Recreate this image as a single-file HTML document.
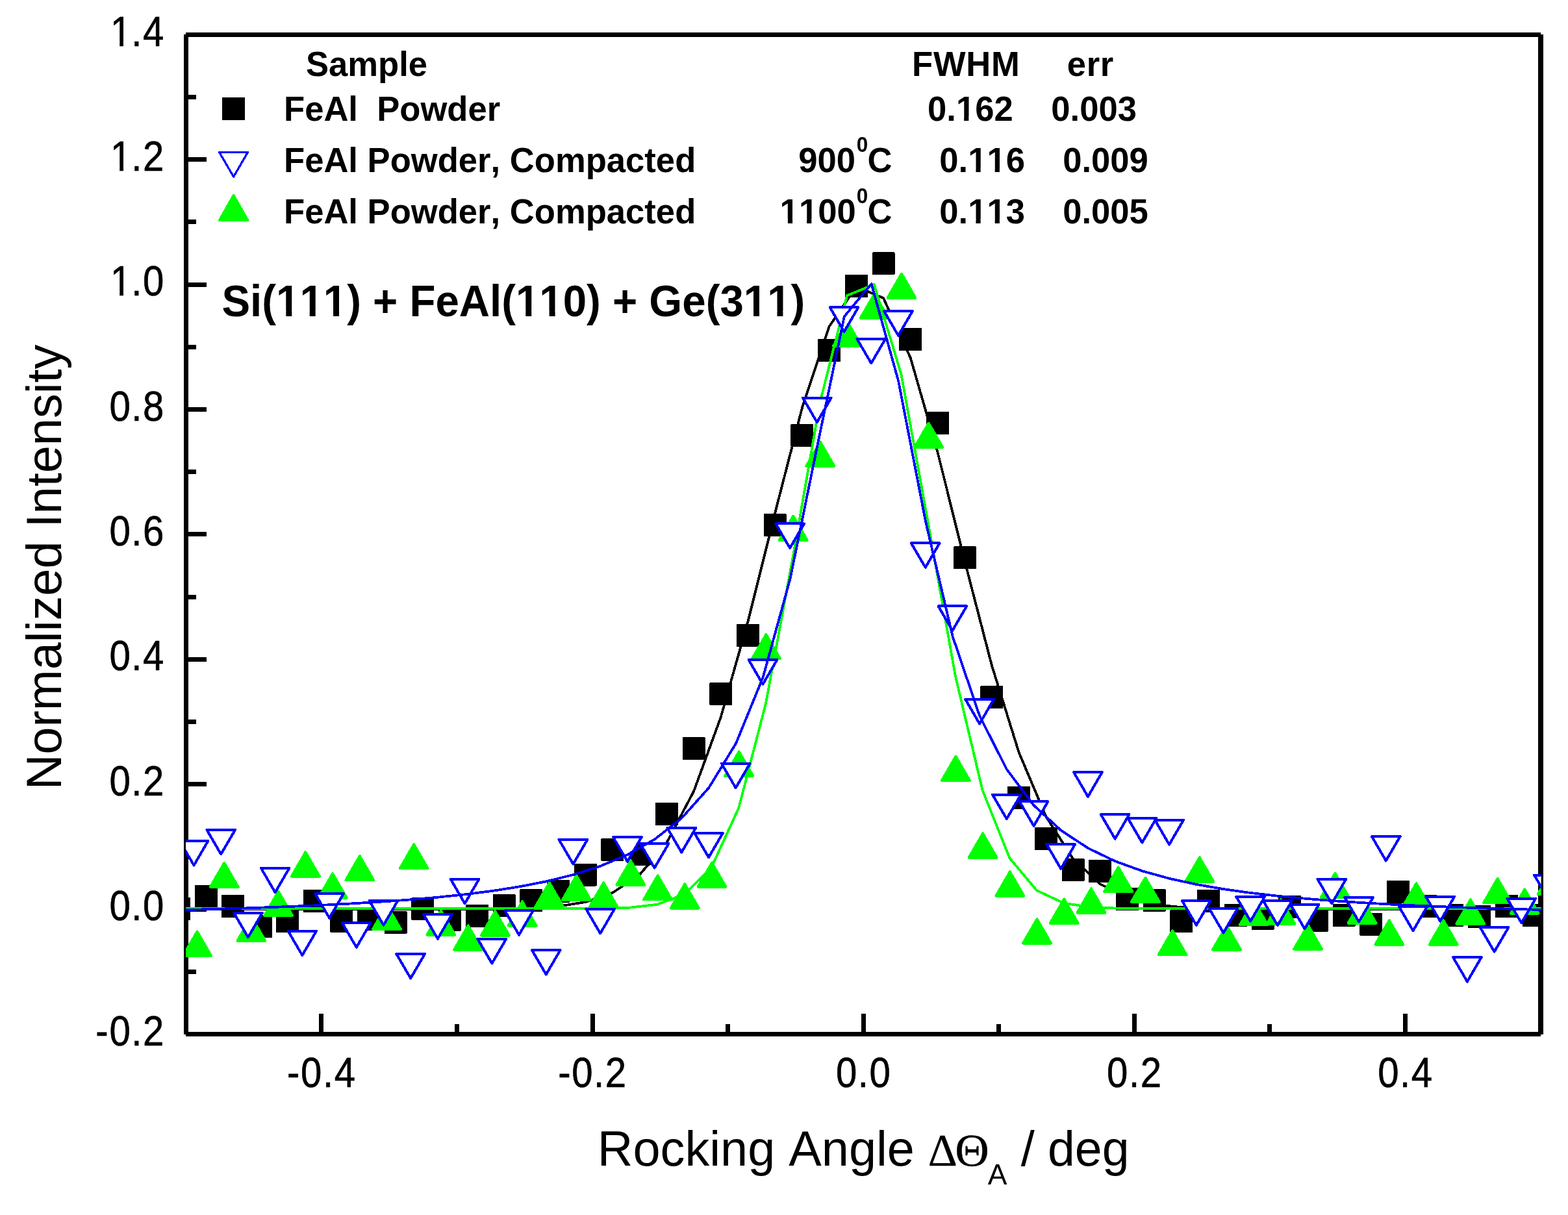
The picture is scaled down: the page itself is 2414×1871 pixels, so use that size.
<!DOCTYPE html>
<html lang="en"><head><meta charset="utf-8"><title>Rocking curves: Si(111) + FeAl(110) + Ge(311)</title>
<style>
html,body{margin:0;padding:0;background:#fff;}
body{width:2414px;height:1871px;overflow:hidden;}
svg{display:block;}
text{font-family:"Liberation Sans",Arial,Helvetica,sans-serif;fill:#000;font-kerning:none;}
.b{font-weight:bold;}
.sym{font-family:"Liberation Serif","DejaVu Serif",serif;}
.m{fill:#fff;}
.ax{fill:#000;shape-rendering:crispEdges;}
.sq{fill:#000;shape-rendering:crispEdges;}
.gt{fill:#0f0;stroke:#0f0;stroke-width:4;stroke-linejoin:round;shape-rendering:crispEdges;}
.bt{fill:#fff;stroke:#00f;stroke-width:4;stroke-linejoin:round;shape-rendering:crispEdges;}
.ln{fill:none;stroke-width:3.8;stroke-linejoin:round;stroke-linecap:butt;shape-rendering:crispEdges;}
</style></head><body>
<svg width="2414" height="1871" viewBox="0 0 2414 1871" role="img" aria-label="Rocking curves of FeAl powder samples">
<rect width="2414" height="1871" fill="#fff"/>
<defs><clipPath id="pc"><rect x="286" y="53" width="2086.6" height="1540"/></clipPath></defs>
<g class="ax">
<rect x="283" y="53" width="7" height="1540"/>
<rect x="2368" y="53" width="8" height="1540"/>
<rect x="286" y="50" width="2086" height="7"/>
<rect x="286" y="1589" width="2086" height="7"/>
<rect x="290" y="146" width="12" height="7"/>
<rect x="290" y="242" width="28" height="7"/>
<rect x="290" y="338" width="12" height="7"/>
<rect x="290" y="435" width="28" height="7"/>
<rect x="290" y="531" width="12" height="7"/>
<rect x="290" y="627" width="28" height="7"/>
<rect x="290" y="723" width="12" height="7"/>
<rect x="290" y="819" width="28" height="7"/>
<rect x="290" y="916" width="12" height="7"/>
<rect x="290" y="1012" width="28" height="7"/>
<rect x="290" y="1108" width="12" height="7"/>
<rect x="290" y="1204" width="28" height="7"/>
<rect x="290" y="1300" width="12" height="7"/>
<rect x="290" y="1397" width="28" height="7"/>
<rect x="290" y="1493" width="12" height="7"/>
<rect x="491" y="1561" width="7" height="28"/>
<rect x="700" y="1577" width="7" height="12"/>
<rect x="909" y="1561" width="7" height="28"/>
<rect x="1117" y="1577" width="7" height="12"/>
<rect x="1326" y="1561" width="7" height="28"/>
<rect x="1534" y="1577" width="7" height="12"/>
<rect x="1743" y="1561" width="7" height="28"/>
<rect x="1951" y="1577" width="7" height="12"/>
<rect x="2160" y="1561" width="7" height="28"/>
</g>
<text font-size="64.2" transform="translate(0,70.5) scale(0.9050,1)" x="187.74 223.54 243.13" y="0" stroke="#000" stroke-width="0.7" xml:space="preserve">1.4</text>
<rect class="m" x="172.82" y="64.15" width="11.38" height="8.1"/>
<rect class="m" x="189.97" y="64.15" width="10.93" height="8.1"/>
<text font-size="64.2" transform="translate(0,262.88) scale(0.9050,1)" x="187.74 223.54 243.13" y="0" stroke="#000" stroke-width="0.7" xml:space="preserve">1.2</text>
<rect class="m" x="172.82" y="256.53" width="11.38" height="8.1"/>
<rect class="m" x="189.97" y="256.53" width="10.93" height="8.1"/>
<text font-size="64.2" transform="translate(0,455.25) scale(0.9050,1)" x="187.74 223.54 243.13" y="0" stroke="#000" stroke-width="0.7" xml:space="preserve">1.0</text>
<rect class="m" x="172.82" y="448.9" width="11.38" height="8.1"/>
<rect class="m" x="189.97" y="448.9" width="10.93" height="8.1"/>
<text font-size="64.2" transform="translate(0,647.63) scale(0.9050,1)" x="186.09 223.54 243.13" y="0" stroke="#000" stroke-width="0.7" xml:space="preserve">0.8</text>
<text font-size="64.2" transform="translate(0,840) scale(0.9050,1)" x="186.09 223.54 243.13" y="0" stroke="#000" stroke-width="0.7" xml:space="preserve">0.6</text>
<text font-size="64.2" transform="translate(0,1032.38) scale(0.9050,1)" x="186.09 223.54 243.13" y="0" stroke="#000" stroke-width="0.7" xml:space="preserve">0.4</text>
<text font-size="64.2" transform="translate(0,1224.75) scale(0.9050,1)" x="186.09 223.54 243.13" y="0" stroke="#000" stroke-width="0.7" xml:space="preserve">0.2</text>
<text font-size="64.2" transform="translate(0,1417.13) scale(0.9050,1)" x="186.09 223.54 243.13" y="0" stroke="#000" stroke-width="0.7" xml:space="preserve">0.0</text>
<text font-size="64.2" transform="translate(0,1609.5) scale(0.9050,1)" x="162.84 186.09 223.54 243.13" y="0" stroke="#000" stroke-width="0.7" xml:space="preserve">-0.2</text>
<text font-size="64.2" transform="translate(0,1673.6) scale(0.9050,1)" x="488.45 511.7 549.16 568.74" y="0" stroke="#000" stroke-width="0.7" xml:space="preserve">-0.4</text>
<text font-size="64.2" transform="translate(0,1673.6) scale(0.9050,1)" x="949.34 972.58 1010.04 1029.63" y="0" stroke="#000" stroke-width="0.7" xml:space="preserve">-0.2</text>
<text font-size="64.2" transform="translate(0,1673.6) scale(0.9050,1)" x="1422.08 1459.53 1479.12" y="0" stroke="#000" stroke-width="0.7" xml:space="preserve">0.0</text>
<text font-size="64.2" transform="translate(0,1673.6) scale(0.9050,1)" x="1882.96 1920.42 1940.01" y="0" stroke="#000" stroke-width="0.7" xml:space="preserve">0.2</text>
<text font-size="64.2" transform="translate(0,1673.6) scale(0.9050,1)" x="2343.85 2381.3 2400.89" y="0" stroke="#000" stroke-width="0.7" xml:space="preserve">0.4</text>
<text transform="translate(94.1,1216.3) rotate(-90) scale(0.9852,1)" font-size="76.84">Normalized Intensity</text>
<text font-size="76.84" transform="translate(0,1794.9) scale(0.9852,1)" x="933.6 989.09 1031.82 1070.24 1108.65 1125.72 1168.46 1211.19 1232.54 1283.78 1326.52 1369.25 1386.32" y="0" xml:space="preserve">Rocking Angle</text>
<text class="sym" font-size="70" x="1428.63" y="1794.9" stroke="#000" stroke-width="0.35" xml:space="preserve">Δ</text>
<text class="sym" font-size="70" transform="translate(0,1794.9) scale(1.0400,1)" x="1413.67" y="0" stroke="#000" stroke-width="0.35" xml:space="preserve">Θ</text>
<text font-size="44.5" x="1520.81" y="1824.4" xml:space="preserve">A</text>
<text font-size="76.84" transform="translate(0,1794.9) scale(0.9852,1)" x="1595.38" y="0" xml:space="preserve">/</text>
<text font-size="76.45" transform="translate(0,1794.9) scale(0.9852,1)" x="1637.22 1679.74 1722.25" y="0" xml:space="preserve">deg</text>
<g clip-path="url(#pc)">
<g class="sq">
<rect x="258.1" y="1382" width="35" height="35" rx="1.3"/>
<rect x="299.81" y="1362.9" width="35" height="35" rx="1.3"/>
<rect x="340.72" y="1377.8" width="35" height="35" rx="1.3"/>
<rect x="384.23" y="1408.8" width="35" height="35" rx="1.3"/>
<rect x="424.94" y="1400.9" width="35" height="35" rx="1.3"/>
<rect x="466.65" y="1370.1" width="35" height="35" rx="1.3"/>
<rect x="508.36" y="1400.8" width="35" height="35" rx="1.3"/>
<rect x="550.07" y="1398" width="35" height="35" rx="1.3"/>
<rect x="591.78" y="1403" width="35" height="35" rx="1.3"/>
<rect x="633.49" y="1382" width="35" height="35" rx="1.3"/>
<rect x="675.2" y="1398.7" width="35" height="35" rx="1.3"/>
<rect x="716.91" y="1393.2" width="35" height="35" rx="1.3"/>
<rect x="758.62" y="1377" width="35" height="35" rx="1.3"/>
<rect x="800.33" y="1369" width="35" height="35" rx="1.3"/>
<rect x="842.04" y="1355.1" width="35" height="35" rx="1.3"/>
<rect x="883.75" y="1329.5" width="35" height="35" rx="1.3"/>
<rect x="925.46" y="1291" width="35" height="35" rx="1.3"/>
<rect x="967.17" y="1297.5" width="35" height="35" rx="1.3"/>
<rect x="1008.88" y="1236" width="35" height="35" rx="1.3"/>
<rect x="1050.59" y="1134.9" width="35" height="35" rx="1.3"/>
<rect x="1092.3" y="1051" width="35" height="35" rx="1.3"/>
<rect x="1134.01" y="960.9" width="35" height="35" rx="1.3"/>
<rect x="1175.72" y="791" width="35" height="35" rx="1.3"/>
<rect x="1217.43" y="653" width="35" height="35" rx="1.3"/>
<rect x="1259.14" y="521.9" width="35" height="35" rx="1.3"/>
<rect x="1300.85" y="423" width="35" height="35" rx="1.3"/>
<rect x="1342.56" y="388.4" width="35" height="35" rx="1.3"/>
<rect x="1384.27" y="505.1" width="35" height="35" rx="1.3"/>
<rect x="1425.98" y="634" width="35" height="35" rx="1.3"/>
<rect x="1467.69" y="841.4" width="35" height="35" rx="1.3"/>
<rect x="1509.4" y="1056.1" width="35" height="35" rx="1.3"/>
<rect x="1551.11" y="1211.2" width="35" height="35" rx="1.3"/>
<rect x="1592.82" y="1273.8" width="35" height="35" rx="1.3"/>
<rect x="1634.53" y="1322" width="35" height="35" rx="1.3"/>
<rect x="1676.24" y="1324" width="35" height="35" rx="1.3"/>
<rect x="1717.95" y="1366.9" width="35" height="35" rx="1.3"/>
<rect x="1759.66" y="1368.9" width="35" height="35" rx="1.3"/>
<rect x="1801.37" y="1400.7" width="35" height="35" rx="1.3"/>
<rect x="1843.08" y="1370" width="35" height="35" rx="1.3"/>
<rect x="1884.79" y="1392.2" width="35" height="35" rx="1.3"/>
<rect x="1926.5" y="1396.9" width="35" height="35" rx="1.3"/>
<rect x="1968.21" y="1379" width="35" height="35" rx="1.3"/>
<rect x="2009.92" y="1399.7" width="35" height="35" rx="1.3"/>
<rect x="2051.63" y="1392.1" width="35" height="35" rx="1.3"/>
<rect x="2093.34" y="1406" width="35" height="35" rx="1.3"/>
<rect x="2135.05" y="1355.9" width="35" height="35" rx="1.3"/>
<rect x="2176.76" y="1377.8" width="35" height="35" rx="1.3"/>
<rect x="2218.47" y="1392.3" width="35" height="35" rx="1.3"/>
<rect x="2260.18" y="1393.9" width="35" height="35" rx="1.3"/>
<rect x="2301.89" y="1377.8" width="35" height="35" rx="1.3"/>
<rect x="2343.6" y="1392.1" width="35" height="35" rx="1.3"/>
</g>
<polyline class="ln" stroke="#000" points="275.6,1400.12 317.31,1400.12 358.22,1400.12 401.73,1400.12 442.44,1400.12 484.15,1400.12 525.86,1400.12 567.57,1400.12 609.28,1400.12 650.99,1400.11 692.7,1400.08 734.41,1399.95 776.12,1399.57 817.83,1398.48 859.54,1395.68 901.25,1389.07 942.96,1374.87 984.67,1347.08 1026.38,1297.74 1068.09,1218.53 1109.8,1104.13 1151.51,956.76 1193.22,789.83 1234.93,628.13 1276.64,502.71 1318.35,441.46 1360.06,459.01 1401.77,551.11 1443.48,696.26 1485.19,863.88 1526.9,1024.69 1568.61,1158.57 1610.32,1257.31 1652.03,1322.53 1693.74,1361.38 1735.45,1382.35 1777.16,1392.63 1818.87,1397.22 1860.58,1399.09 1902.29,1399.79 1944,1400.02 1985.71,1400.1 2027.42,1400.12 2069.13,1400.12 2110.84,1400.12 2152.55,1400.12 2194.26,1400.12 2235.97,1400.12 2277.68,1400.12 2319.39,1400.12 2361.1,1400.12 2402.81,1400.12"/>
<g class="gt">
<polygon points="282.01,1471.7 325.01,1471.7 303.51,1434.5"/>
<polygon points="323.72,1366 366.72,1366 345.22,1328.8"/>
<polygon points="365.43,1448.8 408.43,1448.8 386.93,1411.6"/>
<polygon points="407.14,1409.9 450.14,1409.9 428.64,1372.7"/>
<polygon points="448.85,1349.5 491.85,1349.5 470.35,1312.3"/>
<polygon points="490.56,1382.5 533.56,1382.5 512.06,1345.3"/>
<polygon points="532.27,1355.4 575.27,1355.4 553.77,1318.2"/>
<polygon points="573.98,1430.8 616.98,1430.8 595.48,1393.6"/>
<polygon points="615.69,1337.4 658.69,1337.4 637.19,1300.2"/>
<polygon points="657.4,1439.6 700.4,1439.6 678.9,1402.4"/>
<polygon points="699.11,1462.5 742.11,1462.5 720.61,1425.3"/>
<polygon points="740.82,1440.5 783.82,1440.5 762.32,1403.3"/>
<polygon points="782.53,1425.5 825.53,1425.5 804.03,1388.3"/>
<polygon points="824.24,1396.4 867.24,1396.4 845.74,1359.2"/>
<polygon points="865.95,1385.6 908.95,1385.6 887.45,1348.4"/>
<polygon points="907.66,1396.6 950.66,1396.6 929.16,1359.4"/>
<polygon points="949.37,1362.6 992.37,1362.6 970.87,1325.4"/>
<polygon points="991.08,1385.4 1034.08,1385.4 1012.58,1348.2"/>
<polygon points="1032.79,1398.5 1075.79,1398.5 1054.29,1361.3"/>
<polygon points="1074.5,1365.7 1117.5,1365.7 1096,1328.5"/>
<polygon points="1116.21,1194.7 1159.21,1194.7 1137.71,1157.5"/>
<polygon points="1157.92,1014.3 1200.92,1014.3 1179.42,977.1"/>
<polygon points="1199.63,831.8 1242.63,831.8 1221.13,794.6"/>
<polygon points="1241.34,717.7 1284.34,717.7 1262.84,680.5"/>
<polygon points="1283.05,532.8 1326.05,532.8 1304.55,495.6"/>
<polygon points="1324.76,489.8 1367.76,489.8 1346.26,452.6"/>
<polygon points="1366.47,458.7 1409.47,458.7 1387.97,421.5"/>
<polygon points="1408.18,688.8 1451.18,688.8 1429.68,651.6"/>
<polygon points="1449.89,1202 1492.89,1202 1471.39,1164.8"/>
<polygon points="1491.6,1320.6 1534.6,1320.6 1513.1,1283.4"/>
<polygon points="1533.31,1379.6 1576.31,1379.6 1554.81,1342.4"/>
<polygon points="1575.02,1452.5 1618.02,1452.5 1596.52,1415.3"/>
<polygon points="1616.73,1421.7 1659.73,1421.7 1638.23,1384.5"/>
<polygon points="1658.44,1405.6 1701.44,1405.6 1679.94,1368.4"/>
<polygon points="1700.15,1372.7 1743.15,1372.7 1721.65,1335.5"/>
<polygon points="1741.86,1388.8 1784.86,1388.8 1763.36,1351.6"/>
<polygon points="1783.57,1470.4 1826.57,1470.4 1805.07,1433.2"/>
<polygon points="1825.28,1357.6 1868.28,1357.6 1846.78,1320.4"/>
<polygon points="1866.99,1462.5 1909.99,1462.5 1888.49,1425.3"/>
<polygon points="1908.7,1424.4 1951.7,1424.4 1930.2,1387.2"/>
<polygon points="1950.41,1422.6 1993.41,1422.6 1971.91,1385.4"/>
<polygon points="1992.12,1461.6 2035.12,1461.6 2013.62,1424.4"/>
<polygon points="2033.83,1381.9 2076.83,1381.9 2055.33,1344.7"/>
<polygon points="2075.54,1421.7 2118.54,1421.7 2097.04,1384.5"/>
<polygon points="2117.25,1454.6 2160.25,1454.6 2138.75,1417.4"/>
<polygon points="2158.96,1397.5 2201.96,1397.5 2180.46,1360.3"/>
<polygon points="2200.67,1454.6 2243.67,1454.6 2222.17,1417.4"/>
<polygon points="2242.38,1422.6 2285.38,1422.6 2263.88,1385.4"/>
<polygon points="2284.09,1390.2 2327.09,1390.2 2305.59,1353"/>
<polygon points="2325.8,1406.6 2368.8,1406.6 2347.3,1369.4"/>
<polygon points="2367.51,1377 2410.51,1377 2389.01,1339.8"/>
</g>
<polyline class="ln" stroke="#0f0" points="261.3,1399.16 303.01,1399.16 344.72,1399.16 386.43,1399.16 428.14,1399.16 469.85,1399.16 511.56,1399.16 553.27,1399.16 594.98,1399.16 636.69,1399.16 678.4,1399.16 720.11,1399.16 761.82,1399.16 803.53,1399.16 845.24,1399.15 886.95,1399.11 928.66,1398.84 970.37,1397.59 1012.08,1392.72 1053.79,1377.06 1095.5,1335.38 1137.21,1244.44 1178.92,1083.65 1220.63,858.33 1262.34,619.85 1304.05,455.17 1345.76,437.95 1387.47,576.4 1429.18,807.14 1470.89,1041.07 1512.6,1217.09 1554.31,1321.34 1596.02,1371.2 1637.73,1390.72 1679.44,1397.02 1721.15,1398.71 1762.86,1399.08 1804.57,1399.15 1846.28,1399.16 1887.99,1399.16 1929.7,1399.16 1971.41,1399.16 2013.12,1399.16 2054.83,1399.16 2096.54,1399.16 2138.25,1399.16 2179.96,1399.16 2221.67,1399.16 2263.38,1399.16 2305.09,1399.16 2346.8,1399.16 2388.51,1399.16 2430.22,1399.16"/>
<g class="bt">
<polygon points="276.61,1294.9 320.41,1294.9 298.51,1332.5"/>
<polygon points="318.32,1277.8 362.12,1277.8 340.22,1315.4"/>
<polygon points="360.03,1405.7 403.83,1405.7 381.93,1443.3"/>
<polygon points="401.74,1336.6 445.54,1336.6 423.64,1374.2"/>
<polygon points="443.45,1433.5 487.25,1433.5 465.35,1471.1"/>
<polygon points="485.16,1376 528.96,1376 507.06,1413.6"/>
<polygon points="526.87,1421.2 570.67,1421.2 548.77,1458.8"/>
<polygon points="568.58,1387 612.38,1387 590.48,1424.6"/>
<polygon points="610.29,1468.9 654.09,1468.9 632.19,1506.5"/>
<polygon points="652,1408 695.8,1408 673.9,1445.6"/>
<polygon points="693.71,1353.8 737.51,1353.8 715.61,1391.4"/>
<polygon points="735.42,1446 779.22,1446 757.32,1483.6"/>
<polygon points="777.13,1402 820.93,1402 799.03,1439.6"/>
<polygon points="818.84,1463 862.64,1463 840.74,1500.6"/>
<polygon points="860.55,1293 904.35,1293 882.45,1330.6"/>
<polygon points="902.26,1399.8 946.06,1399.8 924.16,1437.4"/>
<polygon points="943.97,1289 987.77,1289 965.87,1326.6"/>
<polygon points="985.68,1299 1029.48,1299 1007.58,1336.6"/>
<polygon points="1027.39,1275 1071.19,1275 1049.29,1312.6"/>
<polygon points="1069.1,1282.7 1112.9,1282.7 1091,1320.3"/>
<polygon points="1110.81,1175.7 1154.61,1175.7 1132.71,1213.3"/>
<polygon points="1152.52,1016.1 1196.32,1016.1 1174.42,1053.7"/>
<polygon points="1194.23,806.4 1238.03,806.4 1216.13,844"/>
<polygon points="1235.94,612.6 1279.74,612.6 1257.84,650.2"/>
<polygon points="1277.65,473.2 1321.45,473.2 1299.55,510.8"/>
<polygon points="1319.36,521.8 1363.16,521.8 1341.26,559.4"/>
<polygon points="1361.07,479.1 1404.87,479.1 1382.97,516.7"/>
<polygon points="1402.78,836.3 1446.58,836.3 1424.68,873.9"/>
<polygon points="1444.49,933.4 1488.29,933.4 1466.39,971"/>
<polygon points="1486.2,1076.9 1530,1076.9 1508.1,1114.5"/>
<polygon points="1527.91,1223.5 1571.71,1223.5 1549.81,1261.1"/>
<polygon points="1569.62,1234.3 1613.42,1234.3 1591.52,1271.9"/>
<polygon points="1611.33,1300.2 1655.13,1300.2 1633.23,1337.8"/>
<polygon points="1653.04,1189.1 1696.84,1189.1 1674.94,1226.7"/>
<polygon points="1694.75,1254.1 1738.55,1254.1 1716.65,1291.7"/>
<polygon points="1736.46,1260 1780.26,1260 1758.36,1297.6"/>
<polygon points="1778.17,1262.9 1821.97,1262.9 1800.07,1300.5"/>
<polygon points="1819.88,1387.1 1863.68,1387.1 1841.78,1424.7"/>
<polygon points="1861.59,1398.9 1905.39,1398.9 1883.49,1436.5"/>
<polygon points="1903.3,1380.9 1947.1,1380.9 1925.2,1418.5"/>
<polygon points="1945.01,1387.4 1988.81,1387.4 1966.91,1425"/>
<polygon points="1986.72,1392.8 2030.52,1392.8 2008.62,1430.4"/>
<polygon points="2028.43,1353.8 2072.23,1353.8 2050.33,1391.4"/>
<polygon points="2070.14,1381.9 2113.94,1381.9 2092.04,1419.5"/>
<polygon points="2111.85,1287.9 2155.65,1287.9 2133.75,1325.5"/>
<polygon points="2153.56,1395.6 2197.36,1395.6 2175.46,1433.2"/>
<polygon points="2195.27,1380.9 2239.07,1380.9 2217.17,1418.5"/>
<polygon points="2236.98,1474 2280.78,1474 2258.88,1511.6"/>
<polygon points="2278.69,1428 2322.49,1428 2300.59,1465.6"/>
<polygon points="2320.4,1383.7 2364.2,1383.7 2342.3,1421.3"/>
<polygon points="2362.11,1347.6 2405.91,1347.6 2384.01,1385.2"/>
</g>
<polyline class="ln" stroke="#00f" points="257.1,1401.71 298.81,1400.7 340.52,1399.57 382.23,1398.29 423.94,1396.83 465.65,1395.16 507.36,1393.23 549.07,1391 590.78,1388.39 632.49,1385.33 674.2,1381.68 715.91,1377.3 757.62,1371.99 799.33,1365.45 841.04,1357.31 882.75,1346.99 924.46,1333.67 966.17,1316.13 1007.88,1292.48 1049.59,1259.74 1091.3,1213.12 1133.01,1144.84 1174.72,1042.8 1216.43,891.6 1258.14,687.25 1299.85,487.33 1341.56,437.11 1383.27,587.24 1424.98,803.05 1466.69,980.25 1508.4,1103.02 1550.11,1185.03 1591.82,1240.42 1633.53,1278.8 1675.24,1306.17 1716.95,1326.23 1758.66,1341.3 1800.37,1352.88 1842.08,1361.94 1883.79,1369.15 1925.5,1374.99 1967.21,1379.77 2008.92,1383.73 2050.63,1387.05 2092.34,1389.85 2134.05,1392.25 2175.76,1394.31 2217.47,1396.09 2259.18,1397.64 2300.89,1399 2342.6,1400.2 2384.31,1401.26 2426.02,1402.21"/>
</g>
<text class="b" font-size="54.18" transform="translate(0,116.8) scale(0.9709,1)" x="485.13 521.27 551.4 599.57 632.66 647.72" y="0" xml:space="preserve">Sample</text>
<text class="b" font-size="54.18" transform="translate(0,116.8) scale(0.9709,1)" x="1446.2 1480.01 1531.91 1571.75" y="0" xml:space="preserve">FWHM</text>
<text class="b" font-size="54.18" transform="translate(0,116.8) scale(0.9709,1)" x="1692.02 1722.92 1744.64" y="0" xml:space="preserve">err</text>
<text class="b" font-size="54.18" transform="translate(0,185.8) scale(0.9709,1)" x="450.11 483.2 513.34 552.46 567.51 582.57 597.62 633.75 666.85 708.99 742.08 772.22" y="0" xml:space="preserve">FeAl  Powder</text>
<text class="b" font-size="54.18" transform="translate(0,185.8) scale(0.9709,1)" x="1470.84 1500.97 1516.02 1546.15 1576.29" y="0" xml:space="preserve">0.162</text>
<rect class="m" x="1473.98" y="179.07" width="10.16" height="8.13"/>
<rect class="m" x="1491.36" y="179.07" width="9.5" height="8.13"/>
<text class="b" font-size="54.18" transform="translate(0,185.8) scale(0.9709,1)" x="1666.85 1696.98 1712.03 1742.16 1772.3" y="0" xml:space="preserve">0.003</text>
<text class="b" font-size="54.18" transform="translate(0,264.8) scale(0.9709,1)" x="450.11 483.2 513.34 552.46 567.51 582.57 618.7 651.8 693.94 727.03 757.16 778.25 793.3 808.35 847.48 880.57 928.74 961.84 991.97 1022.1 1040.14 1070.27" y="0" xml:space="preserve">FeAl Powder, Compacted</text>
<text class="b" font-size="54.18" transform="translate(0,264.8) scale(0.9709,1)" x="1266.18 1296.31 1326.44" y="0" xml:space="preserve">900</text>
<text class="b" font-size="32.45" transform="translate(0,233.8) scale(0.9709,1)" x="1358.36" y="0" xml:space="preserve">0</text>
<text class="b" font-size="54.18" transform="translate(0,264.8) scale(0.9709,1)" x="1375.51" y="0" xml:space="preserve">C</text>
<text class="b" font-size="54.18" transform="translate(0,264.8) scale(0.9709,1)" x="1489.69 1519.82 1534.87 1565 1595.14" y="0" xml:space="preserve">0.116</text>
<rect class="m" x="1492.28" y="258.07" width="10.16" height="8.13"/>
<rect class="m" x="1509.66" y="258.07" width="9.5" height="8.13"/>
<rect class="m" x="1521.53" y="258.07" width="10.16" height="8.13"/>
<rect class="m" x="1538.92" y="258.07" width="9.5" height="8.13"/>
<text class="b" font-size="54.18" transform="translate(0,264.8) scale(0.9709,1)" x="1685.29 1715.42 1730.47 1760.6 1790.73" y="0" xml:space="preserve">0.009</text>
<text class="b" font-size="54.18" transform="translate(0,343.8) scale(0.9709,1)" x="450.11 483.2 513.34 552.46 567.51 582.57 618.7 651.8 693.94 727.03 757.16 778.25 793.3 808.35 847.48 880.57 928.74 961.84 991.97 1022.1 1040.14 1070.27" y="0" xml:space="preserve">FeAl Powder, Compacted</text>
<text class="b" font-size="54.18" transform="translate(0,343.8) scale(0.9709,1)" x="1236.62 1266.75 1296.88 1327.01" y="0" xml:space="preserve">1100</text>
<rect class="m" x="1202.71" y="337.07" width="10.16" height="8.13"/>
<rect class="m" x="1220.09" y="337.07" width="9.5" height="8.13"/>
<rect class="m" x="1231.97" y="337.07" width="10.16" height="8.13"/>
<rect class="m" x="1249.35" y="337.07" width="9.5" height="8.13"/>
<text class="b" font-size="32.45" transform="translate(0,312.8) scale(0.9709,1)" x="1358.36" y="0" xml:space="preserve">0</text>
<text class="b" font-size="54.18" transform="translate(0,343.8) scale(0.9709,1)" x="1375.51" y="0" xml:space="preserve">C</text>
<text class="b" font-size="54.18" transform="translate(0,343.8) scale(0.9709,1)" x="1489.69 1519.82 1534.87 1565 1595.14" y="0" xml:space="preserve">0.113</text>
<rect class="m" x="1492.28" y="337.07" width="10.16" height="8.13"/>
<rect class="m" x="1509.66" y="337.07" width="9.5" height="8.13"/>
<rect class="m" x="1521.53" y="337.07" width="10.16" height="8.13"/>
<rect class="m" x="1538.92" y="337.07" width="9.5" height="8.13"/>
<text class="b" font-size="54.18" transform="translate(0,343.8) scale(0.9709,1)" x="1685.29 1715.42 1730.47 1760.6 1790.73" y="0" xml:space="preserve">0.005</text>
<text class="b" font-size="68.02" transform="translate(0,487) scale(0.9615,1)" x="355.16 400.53 419.42 442.07 479.9 517.73 555.55 578.2 597.1 636.82 655.72 697.27 735.09 784.21 803.11 825.76 863.59 901.41 939.24 961.89 980.79 1020.51 1039.4 1092.31 1130.14 1152.79 1190.61 1228.44 1266.27" y="0" xml:space="preserve">Si(111) + FeAl(110) + Ge(311)</text>
<rect class="m" x="427.99" y="478.86" width="12.34" height="9.54"/>
<rect class="m" x="449.31" y="478.86" width="11.51" height="9.54"/>
<rect class="m" x="464.36" y="478.86" width="12.34" height="9.54"/>
<rect class="m" x="485.68" y="478.86" width="11.51" height="9.54"/>
<rect class="m" x="500.73" y="478.86" width="12.34" height="9.54"/>
<rect class="m" x="522.05" y="478.86" width="11.51" height="9.54"/>
<rect class="m" x="796.92" y="478.86" width="12.34" height="9.54"/>
<rect class="m" x="818.24" y="478.86" width="11.51" height="9.54"/>
<rect class="m" x="833.29" y="478.86" width="12.34" height="9.54"/>
<rect class="m" x="854.61" y="478.86" width="11.51" height="9.54"/>
<rect class="m" x="1147.74" y="478.86" width="12.34" height="9.54"/>
<rect class="m" x="1169.06" y="478.86" width="11.51" height="9.54"/>
<rect class="m" x="1184.11" y="478.86" width="12.34" height="9.54"/>
<rect class="m" x="1205.43" y="478.86" width="11.51" height="9.54"/>
<rect class="sq" x="342" y="150" width="35" height="35" rx="1.3"/>
<polygon class="bt" style="stroke-width:3.2" points="337.7,234.5 381.5,234.5 359.6,272.2"/>
<polygon class="gt" points="338.1,339 381.1,339 359.6,300.9"/>
</svg>
</body></html>
